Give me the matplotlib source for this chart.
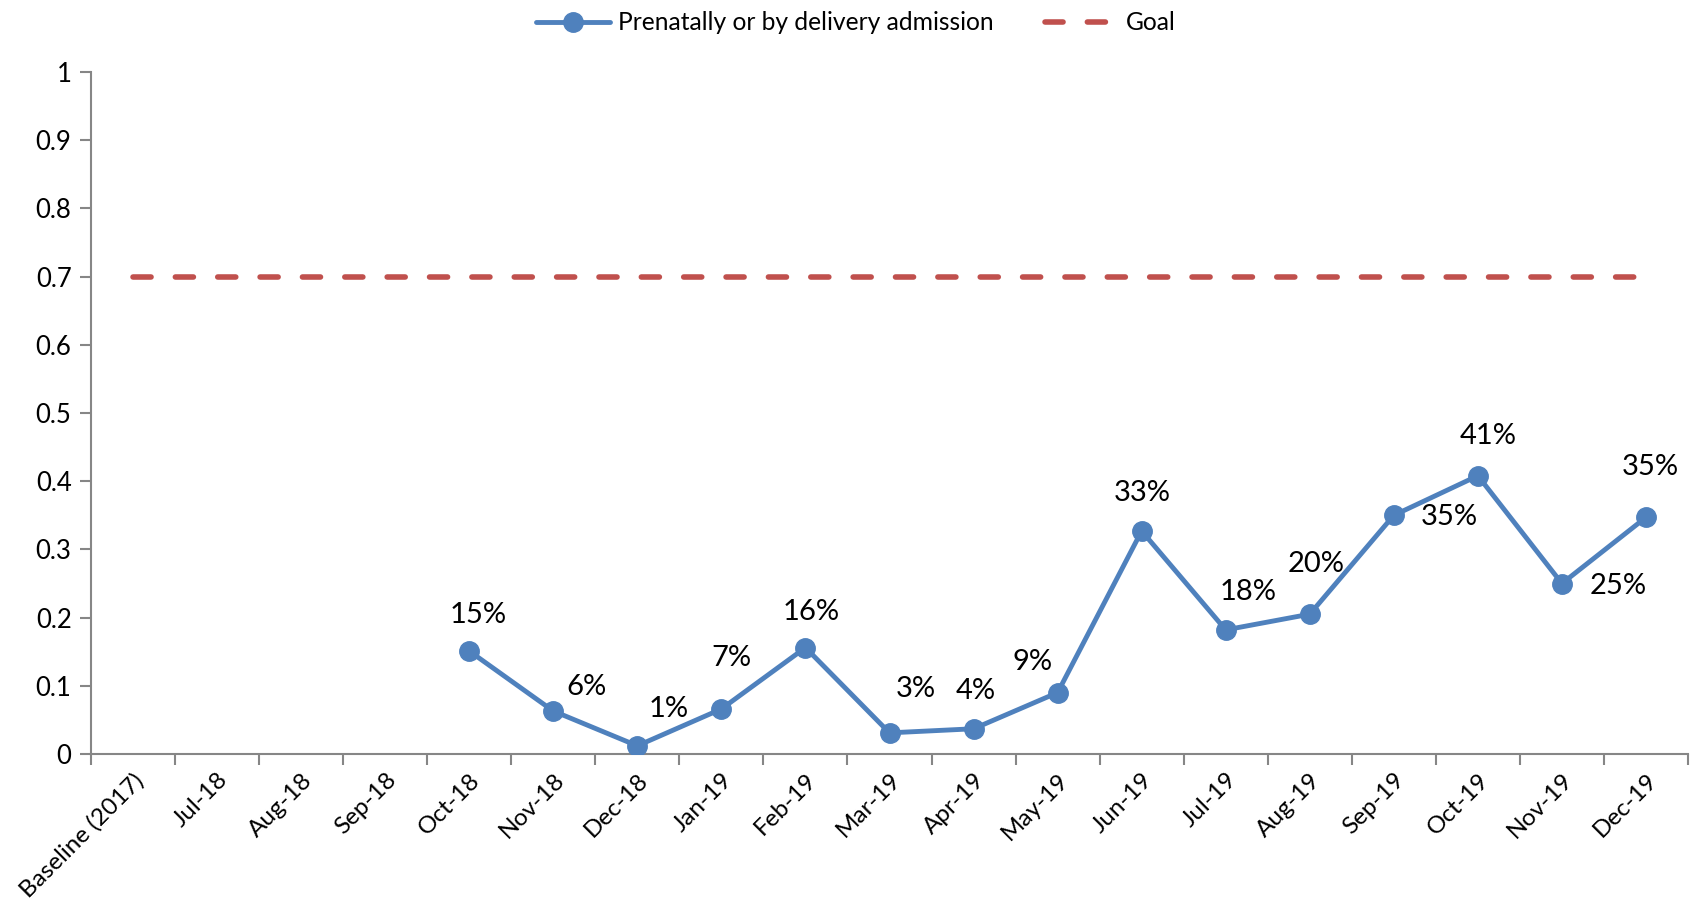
import matplotlib
matplotlib.use("Agg")
import matplotlib.pyplot as plt
import numpy as np

categories = ["Baseline (2017)", "Jul-18", "Aug-18", "Sep-18", "Oct-18", "Nov-18", "Dec-18",
              "Jan-19", "Feb-19", "Mar-19", "Apr-19", "May-19", "Jun-19", "Jul-19", "Aug-19",
              "Sep-19", "Oct-19", "Nov-19", "Dec-19"]
prenatal = [np.nan, np.nan, np.nan, np.nan, 0.151, 0.063, 0.012, 0.066, 0.156, 0.031, 0.037,
            0.090, 0.327, 0.182, 0.205, 0.350, 0.408, 0.250, 0.347]
goal = [0.7] * len(categories)
yticks = [0, 0.1, 0.2, 0.3, 0.4, 0.5, 0.6, 0.7, 0.8, 0.9, 1]
ytick_labels = ["0", "0.1", "0.2", "0.3", "0.4", "0.5", "0.6", "0.7", "0.8", "0.9", "1"]

# label offsets in pixels (dx, dy up)
label_offsets = {4: (9, 36), 5: (33, 24), 6: (31, 37), 7: (10, 51), 8: (6, 36), 9: (26, 44),
                 10: (2, 38), 11: (-25, 31), 12: (1, 38), 13: (22, 38), 14: (6, 50),
                 15: (56, -2), 16: (10, 40), 17: (56, -2), 18: (4, 50)}

plt.rcParams['font.family'] = ['Lato', 'DejaVu Sans']
plt.rcParams['lines.scale_dashes'] = False

W, H = 1692, 907
fig = plt.figure(figsize=(W / 100, H / 100), dpi=100)
ax = fig.add_axes([91 / W, 1 - 754 / H, (1688 - 91) / W, (754 - 72) / H])

x = np.arange(len(categories))
blue = "#4F81BD"
red = "#C0504D"
gl, = ax.plot(x, goal, color=red, lw=4, dashes=(13, 17.5), dash_capstyle='round',
              label="Goal", zorder=2)
pl, = ax.plot(x, prenatal, color=blue, lw=3.5, marker='o', markersize=14,
              solid_capstyle='round', label="Prenatally or by delivery admission", zorder=3)

px2pt = 0.72
for i, v in enumerate(prenatal):
    if np.isnan(v):
        continue
    dx, dy = label_offsets.get(i, (0, 36))
    ax.annotate(f"{round(v * 100)}%", (x[i], v), xytext=(dx * px2pt, dy * px2pt),
                textcoords='offset points', ha='center', va='center', fontsize=21, color='black')

ax.set_xlim(-0.5, len(categories) - 0.5)
ax.set_ylim(0, 1)
ax.set_yticks(yticks)
ax.set_yticklabels(ytick_labels, fontsize=18.5)

ax.set_xticks(np.arange(len(categories) + 1) - 0.5)
ax.set_xticklabels([])
ax.set_xticks(x, minor=True)
ax.set_xticklabels(categories, minor=True, rotation=45, ha='right', rotation_mode='anchor', fontsize=17.5)
ax.tick_params(axis='x', which='minor', length=0, pad=11)
ax.tick_params(axis='x', which='major', length=8, width=1.5, color='#868686')
ax.tick_params(axis='y', length=8, width=1.5, color='#868686', pad=6)

for s in ['top', 'right']:
    ax.spines[s].set_visible(False)
for s in ['left', 'bottom']:
    ax.spines[s].set_color('#868686')
    ax.spines[s].set_linewidth(1.5)

fig.legend(handles=[pl, gl], loc='upper center', bbox_to_anchor=(0.506, 1.012), ncol=2,
           frameon=False, fontsize=17.7, handlelength=3.0, columnspacing=2.1, handletextpad=0.3)

fig.savefig("out.png", dpi=100, facecolor='white')
